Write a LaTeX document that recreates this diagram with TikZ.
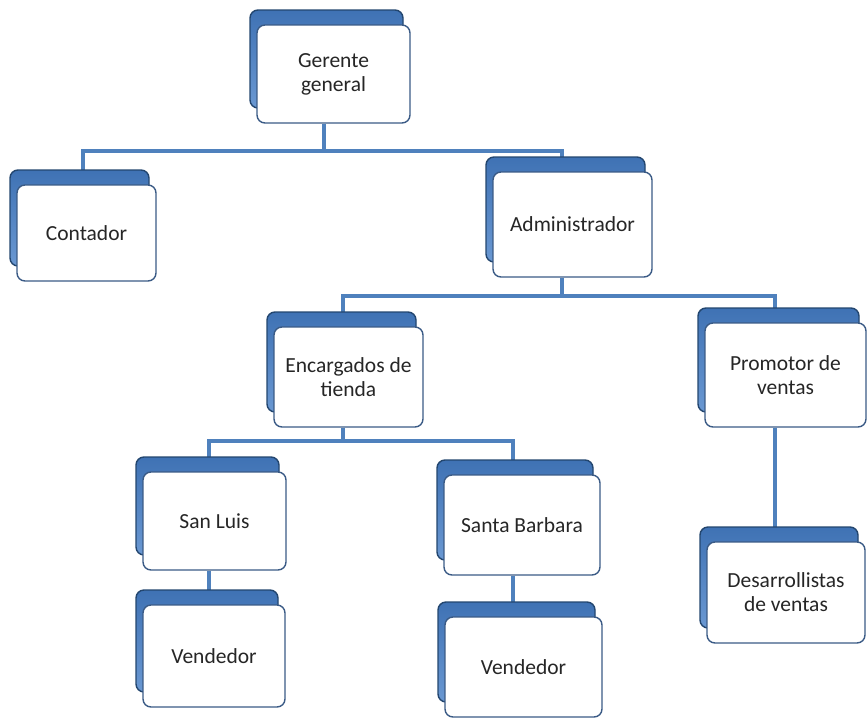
\documentclass[tikz,border=0pt]{standalone}
\usepackage{fontspec}
\setmainfont{Carlito}
\usetikzlibrary{shadows,backgrounds}
\definecolor{linkblue}{HTML}{4F81BD}
\definecolor{boxedge}{HTML}{3B5B86}
\definecolor{backtop}{HTML}{3F72B4}
\definecolor{backbot}{HTML}{6A98D2}
\definecolor{backedge}{HTML}{23466F}
\begin{document}
\begin{tikzpicture}[x=1pt,y=-1pt,
  card/.style={draw=boxedge,line width=1.4pt,fill=white,rounded corners=8pt,align=center,
    font=\fontsize{21.5}{24}\selectfont,text=black!85,
    copy shadow={shadow xshift=-7pt,shadow yshift=15pt,top color=backtop,bottom color=backbot,
      draw=backedge,line width=1.4pt}},
  link/.style={draw=linkblue,line width=4pt}]
\useasboundingbox(0,0)rectangle(868,721);
%
\node[card,minimum width=153pt,minimum height=98pt](gerente)at(333.5,74){Gerente\\general};
\node[card,minimum width=139pt,minimum height=96pt](contador)at(86.5,233){Contador};
\node[card,minimum width=159pt,minimum height=105pt](admin)at(572.5,224.5){Administrador};
%
\node[card,minimum width=149pt,minimum height=100pt](encargados)at(348.5,377){Encargados de\\tienda};
\node[card,minimum width=161pt,minimum height=104pt](promotor)at(785.5,375){Promotor de\\ventas};
%
\node[card,minimum width=143pt,minimum height=98pt](sanluis)at(214.5,521){San Luis};
\node[card,minimum width=156pt,minimum height=100pt](santab)at(522,525){Santa Barbara};
\node[card,minimum width=142pt,minimum height=102pt](vendA)at(214,656){Vendedor};
\node[card,minimum width=157pt,minimum height=100pt](vendB)at(523.5,667){Vendedor};
\node[card,minimum width=158pt,minimum height=101pt](desarr)at(786,592.5){Desarrollistas\\de ventas};
%
\begin{scope}[on background layer]
\draw[link]([xshift=-9.5pt]gerente.south)--++(0,27)coordinate(bar1);
\draw[link]([xshift=-3.5pt]contador.north)|-(bar1)-|([xshift=-10.5pt]admin.north);
%
\draw[link]([xshift=-10.5pt]admin.south)--++(0,18)coordinate(bar2);
\draw[link]([xshift=-5.5pt]encargados.north)|-(bar2)-|([xshift=-10.5pt]promotor.north);
%
\draw[link]([xshift=-5.5pt]encargados.south)--++(0,13)coordinate(bar3);
\draw[link]([xshift=-5.5pt]sanluis.north)|-(bar3)-|([xshift=-9pt]santab.north);
%
\draw[link]([xshift=-5.5pt]sanluis.south)--([xshift=-5pt]vendA.north);
\draw[link]([xshift=-9pt]santab.south)--([xshift=-10.5pt]vendB.north);
\draw[link]([xshift=-10.5pt]promotor.south)--([xshift=-11pt]desarr.north);
\end{scope}
\end{tikzpicture}
\end{document}
